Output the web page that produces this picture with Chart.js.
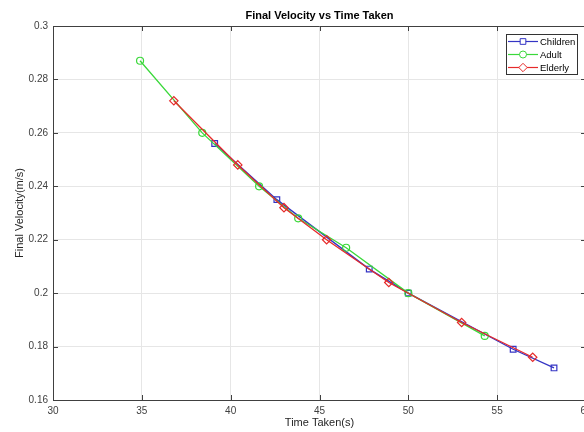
<!DOCTYPE html>
<html>
<head>
<meta charset="utf-8">
<script src="https://cdn.jsdelivr.net/npm/chart.js@4"></script>
<style>
  html, body { margin: 0; padding: 0; background: #fff; overflow: hidden; }
  #wrap { width: 600px; height: 432px; }
</style>
</head>
<body>
<div id="wrap"><canvas id="grafico" width="600" height="432"></canvas></div>
<script>
const titulo = "Final Velocity vs Time Taken";
const tituloX = "Time Taken(s)";
const tituloY = "Final Velocity(m/s)";

const childrenTempo = [39.1, 42.6, 47.8, 50.0, 55.9, 58.2];
const childrenVel = [0.256, 0.235, 0.209, 0.200, 0.179, 0.172];

const adultTempo = [34.9, 38.4, 41.6, 43.8, 46.5, 50.0, 54.3];
const adultVel = [0.287, 0.260, 0.240, 0.228, 0.217, 0.200, 0.184];

const elderlyTempo = [36.8, 40.4, 43.0, 45.4, 48.9, 53.0, 57.0];
const elderlyVel = [0.272, 0.248, 0.232, 0.220, 0.204, 0.189, 0.176];

const xTicks = [30, 35, 40, 45, 50, 55, 60];
const yTicks = [0.16, 0.18, 0.2, 0.22, 0.24, 0.26, 0.28, 0.3];

const pontos = (xs, ys) => xs.map((x, i) => ({ x, y: ys[i] }));

const fonte = "'Liberation Sans', Arial, sans-serif";
const corEixo = "#404040";

// moldura, ticks para dentro, titulo e legenda no estilo matlab
const molduraPlugin = {
  id: "moldura",
  afterDatasetsDraw(chart) {
    const { ctx, chartArea: a, scales } = chart;
    ctx.save();
    ctx.strokeStyle = corEixo;
    ctx.lineWidth = 1;
    ctx.beginPath();
    ctx.moveTo(a.left, a.top + 0.5);
    ctx.lineTo(a.right, a.top + 0.5);
    ctx.moveTo(a.right - 0.5, a.top);
    ctx.lineTo(a.right - 0.5, a.bottom);
    xTicks.forEach(v => {
      const px = Math.round(scales.x.getPixelForValue(v)) + 0.5;
      ctx.moveTo(px, a.bottom); ctx.lineTo(px, a.bottom - 5);
      ctx.moveTo(px, a.top); ctx.lineTo(px, a.top + 5);
    });
    yTicks.forEach(v => {
      const py = Math.round(scales.y.getPixelForValue(v)) + 0.5;
      ctx.moveTo(a.left, py); ctx.lineTo(a.left + 5, py);
      ctx.moveTo(a.right, py); ctx.lineTo(a.right - 5, py);
    });
    ctx.stroke();

    ctx.fillStyle = "#000";
    ctx.font = "bold 11px " + fonte;
    ctx.textAlign = "center";
    ctx.textBaseline = "middle";
    ctx.fillText(titulo, (a.left + a.right) / 2, 16);

    // legenda
    const lx = 506, ly = 34, lw = 71, lh = 40;
    ctx.fillStyle = "#fff";
    ctx.fillRect(lx, ly, lw, lh);
    ctx.strokeStyle = "#333";
    ctx.lineWidth = 1;
    ctx.strokeRect(lx + 0.5, ly + 0.5, lw, lh);
    ctx.font = "9.5px " + fonte;
    ctx.textAlign = "left";
    chart.data.datasets.forEach((ds, i) => {
      const y = ly + 7.5 + i * 13;
      ctx.strokeStyle = ds.borderColor;
      ctx.lineWidth = 1.2;
      ctx.beginPath();
      ctx.moveTo(lx + 2, y);
      ctx.lineTo(lx + 32, y);
      ctx.stroke();
      ctx.fillStyle = "#fff";
      ctx.lineWidth = 1;
      Chart.helpers.drawPoint(ctx, {
        pointStyle: ds.pointStyle, radius: ds.pointRadius, rotation: 0, borderWidth: 1
      }, lx + 17, y);
      ctx.fillStyle = "#000";
      ctx.fillText(ds.label, lx + 34, y + 0.5);
    });
    ctx.restore();
  }
};

function serie(label, xs, ys, cor, estilo, raio, ordem) {
  return {
    label,
    data: pontos(xs, ys),
    borderColor: cor,
    backgroundColor: "rgba(0,0,0,0)",
    pointBorderColor: cor,
    pointBackgroundColor: "rgba(0,0,0,0)",
    pointStyle: estilo,
    pointRadius: raio,
    pointBorderWidth: 1.2,
    borderWidth: 1.3,
    tension: 0,
    order: ordem,
  };
}

new Chart(document.getElementById("grafico").getContext("2d"), {
  type: "line",
  data: {
    datasets: [
      serie("Children", childrenTempo, childrenVel, "#3434c4", "rect", 4, 2),
      serie("Adult", adultTempo, adultVel, "#3ad83a", "circle", 3.5, 1),
      serie("Elderly", elderlyTempo, elderlyVel, "#e62a2a", "rectRot", 4.2, 0),
    ]
  },
  options: {
    responsive: false,
    animation: false,
    layout: { padding: { left: 0, right: 14, top: 26, bottom: 0 } },
    plugins: { legend: { display: false }, tooltip: { enabled: false }, title: { display: false } },
    scales: {
      x: {
        type: "linear",
        min: 30, max: 60,
        afterFit: s => { s.height = 32; },
        afterBuildTicks: s => { s.ticks = xTicks.map(v => ({ value: v })); },
        grid: { color: "#e6e6e6", drawTicks: false },
        border: { color: corEixo },
        ticks: { padding: 5, color: "#404040", font: { family: fonte, size: 10 }, maxRotation: 0 },
        title: { display: true, text: tituloX, color: "#262626", font: { family: fonte, size: 11 }, padding: { top: 0, bottom: 2 } }
      },
      y: {
        type: "linear",
        min: 0.16, max: 0.3,
        afterFit: s => { s.width = 53; },
        afterBuildTicks: s => { s.ticks = yTicks.map(v => ({ value: v })); },
        grid: { color: "#e6e6e6", drawTicks: false },
        border: { color: corEixo },
        ticks: {
          padding: 5, color: "#404040", font: { family: fonte, size: 10 },
          callback: v => String(+v.toFixed(2))
        },
        title: { display: true, text: tituloY, color: "#262626", font: { family: fonte, size: 11 }, padding: { top: 13, bottom: 0 } }
      }
    }
  },
  plugins: [molduraPlugin]
});
</script>
</body>
</html>
